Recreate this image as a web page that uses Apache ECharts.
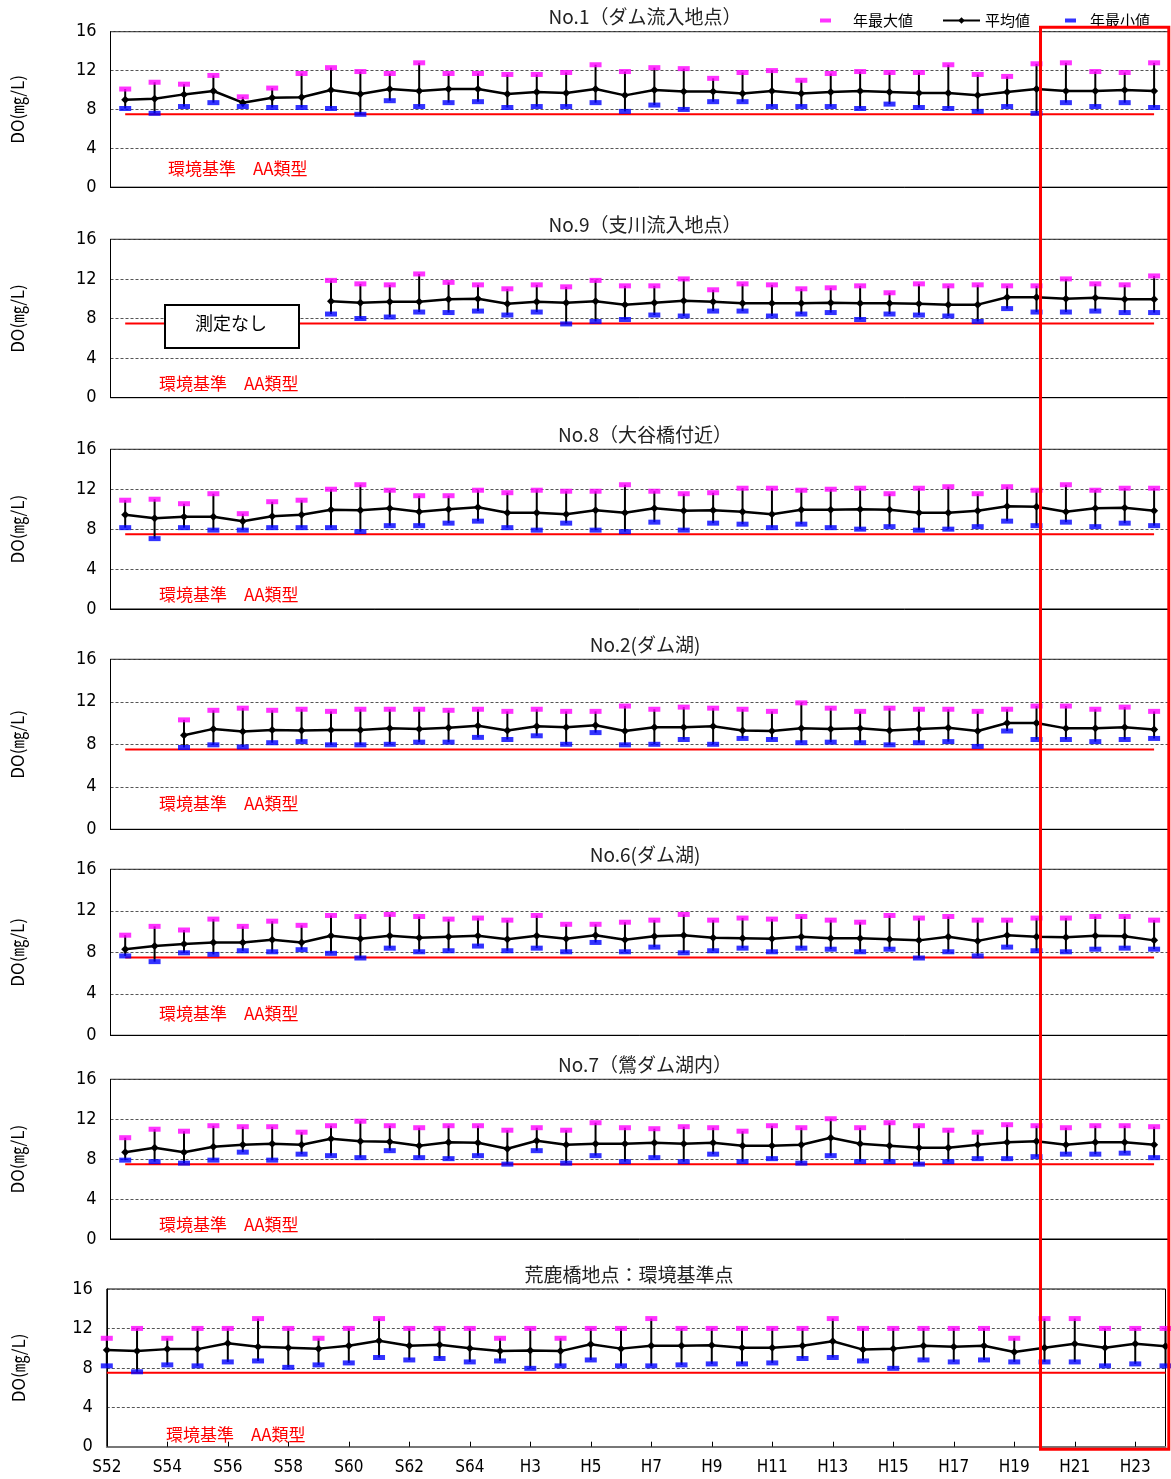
<!DOCTYPE html>
<html><head><meta charset="utf-8">
<script src="https://cdn.jsdelivr.net/npm/echarts@6.0.0/dist/echarts.min.js"></script>
<style>html,body{margin:0;padding:0;background:#fff}#c{width:1171px;height:1479px}</style>
</head><body><div id="c"></div>
<script>
// ---- data ----
const years = ['S52','S53','S54','S55','S56','S57','S58','S59','S60','S61','S62','S63','S64',
  'H2','H3','H4','H5','H6','H7','H8','H9','H10','H11','H12','H13','H14','H15','H16','H17','H18','H19','H20','H21','H22','H23','H24'];
const yTicks = [0, 4, 8, 12, 16];
const standardValue = 7.5;
const panelTitles = ['No.1（ダム流入地点）','No.9（支川流入地点）','No.8（大谷橋付近）','No.2(ダム湖)','No.6(ダム湖)','No.7（鶯ダム湖内）','荒鹿橋地点：環境基準点'];
const seriesNames = ['年最大値','平均値','年最小値'];
const standardLabel = '環境基準　AA類型';
const noDataLabel = '測定なし';

const max1 = [10.1,10.8,10.6,11.5,9.3,10.2,11.7,12.3,11.9,11.7,12.8,11.7,11.7,11.6,11.6,11.8,12.6,11.9,12.3,12.2,11.2,11.8,12.0,11.0,11.7,11.9,11.8,11.8,12.6,11.6,11.4,12.7,12.8,11.9,11.8,12.8];
const mean1 = [9.0,9.1,9.55,9.9,8.7,9.2,9.25,10.0,9.6,10.1,9.9,10.1,10.1,9.6,9.8,9.7,10.1,9.45,10.0,9.85,9.85,9.65,9.9,9.65,9.8,9.9,9.8,9.7,9.7,9.45,9.8,10.1,9.9,9.9,10.0,9.9];
const min1 = [8.1,7.6,8.3,8.7,8.3,8.2,8.2,8.1,7.5,8.9,8.3,8.7,8.8,8.2,8.3,8.3,8.7,7.8,8.45,8.0,8.8,8.8,8.3,8.3,8.3,8.1,8.55,8.2,8.1,7.8,8.3,7.6,8.7,8.3,8.7,8.2];

const max9 = [null,null,null,null,null,null,null,11.85,11.5,11.4,12.5,11.65,11.4,11.0,11.4,11.2,11.85,11.3,11.3,12.0,10.9,11.5,11.4,11.0,11.1,11.3,10.6,11.5,11.3,11.4,11.3,11.3,12.0,11.5,11.4,12.3];
const mean9 = [null,null,null,null,null,null,null,9.75,9.6,9.7,9.7,9.95,10.0,9.5,9.7,9.6,9.75,9.4,9.6,9.8,9.7,9.55,9.55,9.55,9.6,9.55,9.55,9.5,9.4,9.4,10.15,10.15,10.0,10.1,9.95,9.95];
const min9 = [null,null,null,null,null,null,null,8.45,8.0,8.15,8.65,8.6,8.75,8.35,8.65,7.45,7.7,7.9,8.35,8.25,8.75,8.75,8.25,8.45,8.6,7.9,8.45,8.35,8.25,7.7,9.0,8.65,8.65,8.75,8.6,8.6];

const max8 = [10.9,11.0,10.55,11.55,9.55,10.75,10.9,12.0,12.45,11.9,11.35,11.35,11.9,11.65,11.9,11.8,11.8,12.45,11.8,11.55,11.65,12.1,12.1,11.9,12.0,12.1,11.55,12.1,12.25,11.55,12.25,11.9,12.45,11.9,12.1,12.1];
const mean8 = [9.45,9.1,9.25,9.25,8.8,9.3,9.45,9.95,9.9,10.1,9.75,10.0,10.2,9.65,9.65,9.5,9.9,9.65,10.1,9.85,9.9,9.75,9.5,9.95,9.95,10.0,9.95,9.65,9.65,9.85,10.3,10.25,9.75,10.1,10.15,9.85];
const min8 = [8.15,7.05,8.15,7.9,7.9,8.15,8.15,8.15,7.75,8.35,8.35,8.6,8.8,8.15,7.9,8.6,7.9,7.75,8.7,7.9,8.6,8.5,8.15,8.5,8.15,8.0,8.25,7.9,8.0,8.25,8.8,8.35,8.7,8.25,8.6,8.35];

const max2 = [null,null,10.3,11.2,11.4,11.2,11.3,11.1,11.3,11.3,11.3,11.2,11.3,11.1,11.3,11.1,11.1,11.6,11.3,11.5,11.4,11.3,11.1,11.9,11.4,11.1,11.4,11.3,11.3,11.1,11.3,11.6,11.6,11.3,11.5,11.1];
const mean2 = [null,null,8.85,9.45,9.2,9.35,9.3,9.35,9.35,9.5,9.45,9.55,9.75,9.3,9.7,9.6,9.8,9.25,9.6,9.6,9.7,9.3,9.25,9.5,9.45,9.5,9.3,9.45,9.55,9.25,10.0,10.0,9.5,9.5,9.6,9.4];
const min2 = [null,null,7.7,7.95,7.75,8.15,8.25,7.95,7.95,8.0,8.2,8.2,8.65,8.45,8.8,8.0,9.1,7.95,8.0,8.45,8.0,8.55,8.45,8.15,8.2,8.15,7.95,8.15,8.25,7.8,9.25,8.45,8.45,8.25,8.45,8.55];

const max6 = [9.65,10.5,10.15,11.2,10.5,11.0,10.6,11.55,11.45,11.65,11.45,11.2,11.3,11.1,11.55,10.7,10.7,10.9,11.1,11.65,11.1,11.3,11.2,11.45,11.1,10.9,11.55,11.3,11.45,11.1,11.1,11.3,11.3,11.45,11.45,11.1];
const mean6 = [8.3,8.6,8.8,8.95,8.95,9.2,8.95,9.6,9.3,9.6,9.4,9.5,9.6,9.25,9.6,9.3,9.65,9.2,9.55,9.65,9.4,9.35,9.3,9.5,9.35,9.35,9.25,9.15,9.5,9.1,9.65,9.5,9.45,9.6,9.55,9.15];
const min6 = [7.65,7.1,7.95,7.8,8.15,8.05,8.25,7.9,7.45,8.4,8.05,8.15,8.6,8.15,8.4,8.05,8.95,8.05,8.5,7.95,8.15,8.4,8.05,8.4,8.3,8.05,8.3,7.45,8.05,7.65,8.5,8.15,8.05,8.3,8.4,8.3];

const max7 = [10.15,11.0,10.8,11.35,11.25,11.25,10.7,11.35,11.8,11.35,11.15,11.35,11.35,10.9,11.15,10.9,11.65,11.15,11.05,11.25,11.15,10.8,11.35,11.15,12.05,11.15,11.65,11.35,10.9,10.7,11.45,11.35,11.15,11.35,11.35,11.25];
const mean7 = [8.7,9.15,8.7,9.25,9.45,9.55,9.45,10.05,9.8,9.75,9.35,9.7,9.65,9.05,9.85,9.45,9.55,9.55,9.65,9.55,9.65,9.35,9.35,9.45,10.15,9.55,9.35,9.15,9.15,9.45,9.7,9.8,9.45,9.7,9.7,9.45];
const min7 = [7.9,7.75,7.6,7.9,8.7,7.9,8.5,8.35,8.15,8.85,8.15,8.05,8.35,7.5,8.85,7.6,8.35,7.75,8.15,7.75,8.5,7.75,8.05,7.6,8.35,7.75,7.75,7.5,7.75,8.05,8.05,8.25,8.5,8.5,8.6,8.15];

const maxA = [11,12,11,12,12,13,12,11,12,13,12,12,12,11,12,11,12,12,13,12,12,12,12,12,13,12,12,12,12,12,11,13,13,12,12,12];
const meanA = [9.8,9.7,9.9,9.9,10.5,10.15,10.05,9.95,10.25,10.75,10.25,10.35,10.0,9.7,9.75,9.7,10.4,9.95,10.25,10.25,10.3,10.05,10.05,10.25,10.7,9.85,9.95,10.25,10.15,10.25,9.6,10.05,10.45,10.05,10.45,10.2];
const minA = [8.2,7.6,8.3,8.2,8.6,8.7,8.05,8.3,8.5,9.05,8.8,8.95,8.6,8.7,7.95,8.2,8.8,8.2,8.2,8.3,8.4,8.4,8.5,8.95,9.05,8.7,7.95,8.8,8.6,8.8,8.6,8.6,8.6,8.2,8.4,8.2];

const panelMax = [max1, max9, max8, max2, max6, max7, maxA];
const panelMean = [mean1, mean9, mean8, mean2, mean6, mean7, meanA];
const panelMin = [min1, min9, min8, min2, min6, min7, minA];

// ---- layout ----
const gridTops = [31.7, 239.3, 449.3, 659.3, 869.3, 1079.3, 1289];
const gridHeights = [155.5, 158.4, 159.7, 170, 166, 159.7, 157.7];
const stdTextPos = [[168,171],[159,386],[159,597],[159,806],[159,1016],[159,1227],[166,1437]];
const NARROW = '"Liberation Sans Narrow", "DejaVu Sans Condensed", "Liberation Sans", sans-serif';
const JP = '"Noto Sans CJK JP", sans-serif';

const chart = echarts.init(document.getElementById('c'), null, {renderer: 'canvas'});

function errRender(params, api) {
  const lo = api.value(1), hi = api.value(2);
  const p1 = api.coord([api.value(0), lo]);
  const p2 = api.coord([api.value(0), hi]);
  return {type: 'line', shape: {x1: p1[0], y1: p1[1], x2: p2[0], y2: p2[1]},
    style: {stroke: '#000', lineWidth: 2}};
}

const grids = [], xAxes = [], yAxes = [], series = [], titles = [];
for (let g = 0; g < 7; g++) {
  const last = g === 6;
  grids.push({left: last ? 106.8 : 110.5, width: last ? 1058.7 : 1058.3, top: gridTops[g], height: gridHeights[g],
    show: true, borderColor: '#000', borderWidth: 1, backgroundColor: 'transparent'});
  xAxes.push({type: 'category', gridIndex: g, data: years, boundaryGap: !last,
    axisLine: {show: true, lineStyle: {color: last ? '#777' : '#000', width: last ? 2 : 1}},
    axisTick: {show: last, inside: true, interval: 1, length: 5, lineStyle: {color: '#000'}},
    axisLabel: {show: last, interval: 1, fontSize: 17, fontFamily: NARROW, color: '#000', margin: 12},
    splitLine: {show: false}});
  yAxes.push({type: 'value', gridIndex: g, min: yTicks[0], max: yTicks[yTicks.length - 1], interval: yTicks[1] - yTicks[0],
    name: 'DO(㎎/L)', nameLocation: 'middle', nameGap: last ? 80 : 84, nameRotate: 90,
    nameTextStyle: {fontSize: 17, fontFamily: JP, color: '#000'},
    axisLine: {show: true, lineStyle: {color: '#000'}}, axisTick: {show: false},
    axisLabel: {fontSize: 18, fontFamily: NARROW, color: '#000', margin: 14},
    splitLine: {show: true, lineStyle: {color: '#555', type: [3, 2], width: 1}}});
  const mx = panelMax[g], mn = panelMean[g], mi = panelMin[g];
  const errData = [];
  years.forEach((y, i) => { if (mx[i] != null) errData.push([i, mi[i], mx[i]]); });
  series.push({type: 'custom', xAxisIndex: g, yAxisIndex: g, renderItem: errRender, data: errData,
    encode: {x: 0, y: [1, 2]}, z: 2, silent: true});
  series.push({type: 'line', name: '基準', xAxisIndex: g, yAxisIndex: g, data: years.map(() => standardValue),
    symbol: 'none', lineStyle: {color: '#ff0000', width: 2}, z: 1, silent: true});
  series.push({type: 'line', name: seriesNames[1], xAxisIndex: g, yAxisIndex: g, data: mn,
    symbol: 'diamond', symbolSize: 8, itemStyle: {color: '#000'}, lineStyle: {color: '#000', width: 2.5}, z: 3});
  series.push({type: 'scatter', name: seriesNames[0], xAxisIndex: g, yAxisIndex: g, data: mx,
    symbol: 'rect', symbolSize: [12, 5], itemStyle: {color: '#ff00ff'}, z: 4});
  series.push({type: 'scatter', name: seriesNames[2], xAxisIndex: g, yAxisIndex: g, data: mi,
    symbol: 'rect', symbolSize: [12, 5], itemStyle: {color: '#0000ff'}, z: 4});
  titles.push({text: panelTitles[g], left: last ? 624 : 640, textAlign: 'center', top: gridTops[g] - 29,
    textStyle: {fontSize: 19, fontWeight: 'normal', fontFamily: JP, color: '#222'}});
}

const legendBase = {top: 8, textStyle: {fontSize: 15, fontFamily: JP, color: '#000'}, selectedMode: false};
const graphics = [];
stdTextPos.forEach(p => graphics.push({type: 'text', left: p[0], top: p[1] - 11, z: 100,
  style: {text: standardLabel, fill: '#ff0000', font: '17px "Noto Sans CJK JP"'}}));
graphics.push({type: 'rect', left: 164, top: 304, z: 100,
  shape: {x: 0, y: 0, width: 134, height: 43}, style: {fill: '#fff', stroke: '#000', lineWidth: 2}});
graphics.push({type: 'text', left: 195, top: 314, z: 101,
  style: {text: noDataLabel, fill: '#000', font: '18px "Noto Sans CJK JP"'}});

chart.setOption({
  animation: false,
  backgroundColor: '#fff',
  title: titles,
  legend: [
    Object.assign({}, legendBase, {left: 815, data: [seriesNames[0]], itemWidth: 11, itemHeight: 4,
      textStyle: Object.assign({}, legendBase.textStyle, {padding: [0, 0, 0, 17]})}),
    Object.assign({}, legendBase, {left: 937, data: [seriesNames[1]], itemWidth: 37, itemHeight: 8}),
    Object.assign({}, legendBase, {left: 1060, data: [seriesNames[2]], itemWidth: 11, itemHeight: 4,
      textStyle: Object.assign({}, legendBase.textStyle, {padding: [0, 0, 0, 9]})})
  ],
  grid: grids, xAxis: xAxes, yAxis: yAxes, series: series, graphic: graphics
});

// highlight box H20-H24 computed from the axes
const topL = chart.convertToPixel({xAxisIndex: 0}, 31);
const botL = chart.convertToPixel({xAxisIndex: 6}, 31);
const boxLeft = (topL + botL) / 2;
const boxRight = 110.5 + 1058.3;
const boxTop = gridTops[0] - 4.5;
const boxBottom = gridTops[6] + gridHeights[6] + 2.5;
graphics.push({type: 'rect', z: 120, shape: {x: boxLeft, y: boxTop, width: boxRight - boxLeft, height: boxBottom - boxTop},
  style: {fill: 'none', stroke: '#ff0000', lineWidth: 3}});
chart.setOption({graphic: graphics});
</script></body></html>
